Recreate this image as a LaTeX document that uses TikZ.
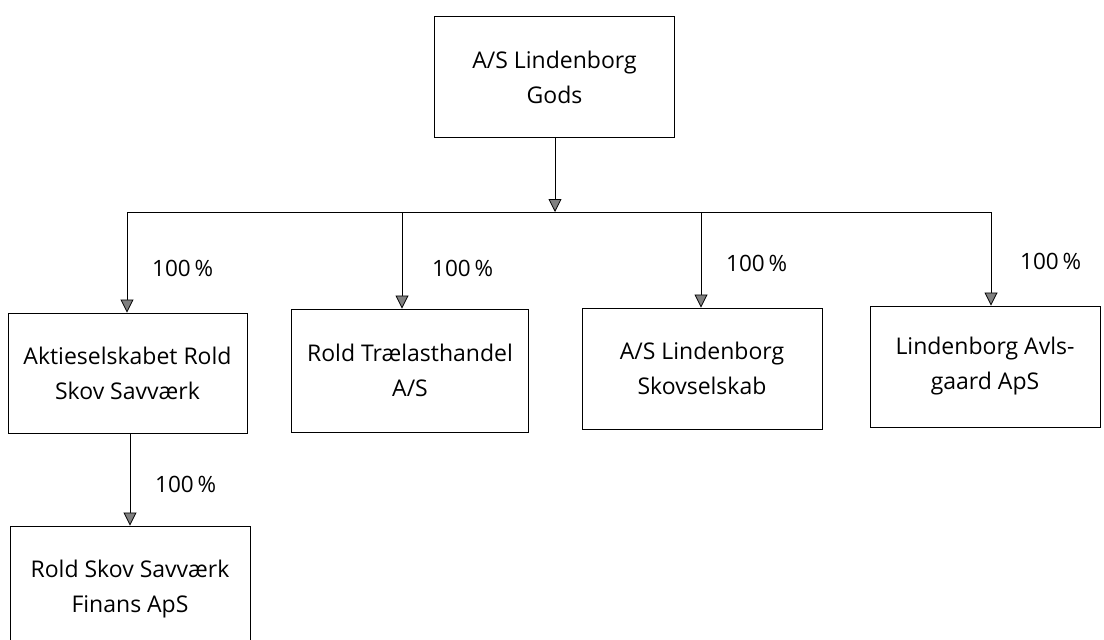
\documentclass[tikz,border=0pt]{standalone}
\usepackage{fontspec}
\setmainfont{Open Sans}
\usetikzlibrary{arrows.meta}
\begin{document}
\begin{tikzpicture}[x=1pt,y=-1pt,
  box/.style={draw,line width=0.9pt,align=center,inner sep=0pt,font=\fontsize{23}{35}\selectfont},
  conn/.style={line width=0.8pt},
  arr/.style={line width=0.8pt,-{Triangle[width=13pt,length=13pt,fill=gray]}},
  pct/.style={font=\fontsize{22.5}{26}\selectfont,anchor=west,inner sep=0pt}]
\clip (0,0) rectangle (1104,640);
\fill[white] (0,0) rectangle (1104,640);
\node[box,minimum width=240pt,minimum height=121pt] (top) at (554.5,77) {A/S Lindenborg\\Gods};
\node[box,minimum width=239pt,minimum height=120pt] (b1) at (127.5,373) {Aktieselskabet Rold\\Skov Savværk};
\node[box,minimum width=237pt,minimum height=123pt] (b2) at (410,370.5) {Rold Trælasthandel\\A/S};
\node[box,minimum width=240pt,minimum height=121pt] (b3) at (702,368.5) {A/S Lindenborg\\Skovselskab};
\node[box,minimum width=230pt,minimum height=121pt] (b4) at (985,366.5) {Lindenborg Avls-\\gaard ApS};
\node[box,minimum width=240pt,minimum height=126pt] (b5) at (130,589) {Rold Skov Savværk\\Finans ApS};
\coordinate (j) at (555,212);
\coordinate (j1) at (127,212);
\coordinate (j2) at (402,212);
\coordinate (j3) at (701,212);
\coordinate (j4) at (991,212);
\coordinate (k) at (130,433);
\draw[arr] (top.south -| j) -- (j);
\draw[conn] (j1) -- (j4);
\draw[arr] (j1) -- (j1 |- b1.north);
\draw[arr] (j2) -- (j2 |- b2.north);
\draw[arr] (j3) -- (j3 |- b3.north);
\draw[arr] (j4) -- (j4 |- b4.north);
\draw[arr] (b1.south -| k) -- (k |- b5.north);
\node[pct] (p1) at (152,268) {100\,\%};
\node[pct] (p2) at (432,268) {100\,\%};
\node[pct] (p3) at (726,263) {100\,\%};
\node[pct] (p4) at (1020,261) {100\,\%};
\node[pct] (p5) at (155,484) {100\,\%};
\end{tikzpicture}
\end{document}
